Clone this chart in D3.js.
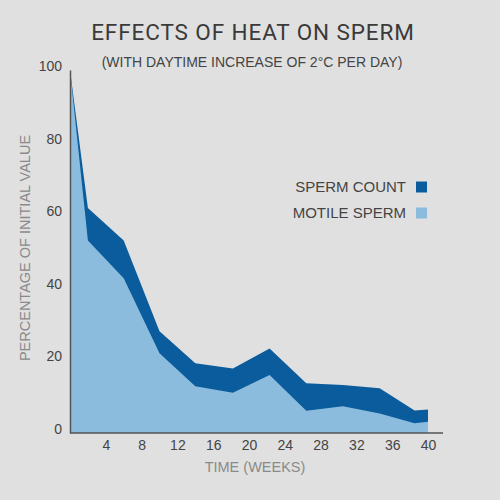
<!DOCTYPE html>
<html><head><meta charset="utf-8">
<script src="https://cdn.jsdelivr.net/npm/d3@7"></script>
<style>
html,body{margin:0;padding:0;background:#e0e0e0;}
svg{display:block;}
</style></head>
<body>
<svg id="chart" width="500" height="500"></svg>
<script>
const weeks = [0, 2, 6, 10, 14, 18.2, 22.3, 26.4, 30.5, 34.6, 38.5, 40];
const spermCount = [100, 62, 53, 28, 19.2, 17.8, 23.3, 13.7, 13.2, 12.3, 6.2, 6.5];
const motileSperm = [100, 53, 42.6, 22, 12.9, 11.1, 16, 6.1, 7.4, 5.4, 2.7, 3.1];
const yTicks = [0, 20, 40, 60, 80, 100];
const xTicks = [4, 8, 12, 16, 20, 24, 28, 32, 36, 40];
const legendItems = ["SPERM COUNT", "MOTILE SPERM"];
const colors = ["#0a5c9d", "#8bbcdd"];

const svg = d3.select("#chart");
svg.append("rect").attr("width",500).attr("height",500).attr("fill","#e0e0e0");

const x = d3.scaleLinear().domain([0,40]).range([70,428]);
const y = d3.scaleLinear().domain([0,100]).range([433,70]);

const rows = weeks.map((w,i)=>({w, c: spermCount[i], m: motileSperm[i]}));

const areaC = d3.area().x(d=>x(d.w)).y0(y(0)).y1(d=>y(d.c));
const areaM = d3.area().x(d=>x(d.w)).y0(y(0)).y1(d=>y(d.m));
svg.append("path").datum(rows).attr("d",areaC).attr("fill",colors[0]);
svg.append("path").datum(rows).attr("d",areaM).attr("fill",colors[1]);

// axes
const yAxis = d3.axisLeft(y).tickValues(yTicks).tickSize(0).tickPadding(8);
const gy = svg.append("g").attr("transform","translate(70,0)").call(yAxis);
gy.select(".domain").attr("stroke","#555").attr("stroke-width",1.5);
gy.selectAll("text").attr("font-family","Liberation Sans, Arial, sans-serif").attr("font-size",14).attr("fill","#444").attr("dy","0.32em").attr("y",-4);

const xAxis = d3.axisBottom(x).tickValues(xTicks).tickSize(0).tickPadding(7);
const gx = svg.append("g").attr("transform","translate(0,433)").call(xAxis);
gx.select(".domain").attr("d","M70,0H443").attr("stroke","#555").attr("stroke-width",1.5);
gx.selectAll("text").attr("font-family","Liberation Sans, Arial, sans-serif").attr("font-size",14).attr("fill","#444");

// titles
svg.append("text").attr("x",253).attr("y",40).attr("text-anchor","middle")
  .attr("font-family","Roboto, sans-serif").attr("font-size",22.5).attr("fill","#3a3a3a")
  .attr("letter-spacing","0.9").text("EFFECTS OF HEAT ON SPERM");
svg.append("text").attr("x",252).attr("y",67).attr("text-anchor","middle")
  .attr("font-family","Liberation Sans, Arial, sans-serif").attr("font-size",14).attr("fill","#444")
  .text("(WITH DAYTIME INCREASE OF 2°C PER DAY)");

svg.append("text").attr("transform","translate(30,248) rotate(-90)").attr("text-anchor","middle")
  .attr("font-family","Liberation Sans, Arial, sans-serif").attr("font-size",14.5).attr("fill","#8a8a8a")
  .text("PERCENTAGE OF INITIAL VALUE");
svg.append("text").attr("x",255).attr("y",472).attr("text-anchor","middle")
  .attr("font-family","Liberation Sans, Arial, sans-serif").attr("font-size",14.5).attr("fill","#8a8a8a")
  .text("TIME (WEEKS)");

// legend
const lg = svg.append("g");
legendItems.forEach((t,i)=>{
  const cy = 187 + i*26;
  lg.append("text").attr("x",406).attr("y",cy).attr("dy","0.35em").attr("text-anchor","end")
    .attr("font-family","Liberation Sans, Arial, sans-serif").attr("font-size",15).attr("fill","#444").text(t);
  lg.append("rect").attr("x",416).attr("y",cy-5.5).attr("width",11).attr("height",11).attr("fill",colors[i]);
});
</script>
</body></html>
